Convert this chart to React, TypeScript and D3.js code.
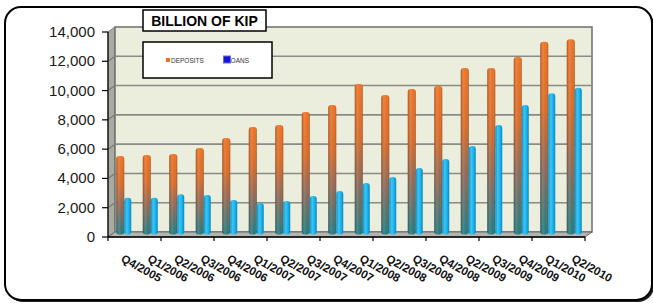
import * as d3 from "d3";

const quarters = [
  "Q4/2005", "Q1/2006", "Q2/2006", "Q3/2006", "Q4/2006", "Q1/2007",
  "Q2/2007", "Q3/2007", "Q4/2007", "Q1/2008", "Q2/2008", "Q3/2008",
  "Q4/2008", "Q2/2009", "Q3/2009", "Q4/2009", "Q1/2010", "Q2/2010",
];
const deposits = [
  5360, 5430, 5500, 5910, 6590, 7340, 7480, 8370, 8850, 10280, 9530, 9940,
  10140, 11370, 11370, 12120, 13170, 13330,
];
const loans = [
  2510, 2510, 2750, 2700, 2360, 2150, 2290, 2630, 2970, 3520, 3930, 4540,
  5160, 6050, 7480, 8850, 9640, 10030,
];
const yTicks = [0, 2000, 4000, 6000, 8000, 10000, 12000, 14000];

const W = 653;
const H = 307;
const FONT = "'Liberation Sans', Arial, sans-serif";

// 3D depth offset of the back wall relative to the front axis
const DX = 7;
const DY = -5;

export default function App(): JSX.Element {
  const x0 = 108;
  const x1 = 585;
  const yFront = d3.scaleLinear().domain([0, 14000]).range([237, 32]);
  const yBack = (v: number) => yFront(v) + DY;
  const yBar = (v: number) => yFront(v) + DY / 2;

  const xFront = d3.scaleBand<string>().domain(quarters).range([x0, x1]);
  const xBar = d3
    .scaleBand<string>()
    .domain(quarters)
    .range([x0 + DX / 2, x1 + DX / 2]);

  const fmt = d3.format(",");
  const floorY = yBar(0);

  return (
    <svg
      width={W}
      height={H}
      style={{ position: "absolute", left: 0, top: 0, background: "#fff" }}
      fontFamily={FONT}
    >
      <defs>
        <linearGradient id="depV" x1="0" y1="0" x2="0" y2="1">
          <stop offset="0" stopColor="#ee7224" />
          <stop offset="0.35" stopColor="#d96a26" />
          <stop offset="0.65" stopColor="#8d6856" />
          <stop offset="1" stopColor="#207a80" />
        </linearGradient>
        <linearGradient id="loanV" x1="0" y1="0" x2="1" y2="0">
          <stop offset="0" stopColor="#0e90c4" />
          <stop offset="0.35" stopColor="#3cc6f6" />
          <stop offset="0.7" stopColor="#18b0ec" />
          <stop offset="1" stopColor="#0a86b8" />
        </linearGradient>
        <linearGradient id="cyl" x1="0" y1="0" x2="1" y2="0">
          <stop offset="0" stopColor="#000" stopOpacity="0.28" />
          <stop offset="0.35" stopColor="#fff" stopOpacity="0.12" />
          <stop offset="0.7" stopColor="#fff" stopOpacity="0" />
          <stop offset="1" stopColor="#000" stopOpacity="0.28" />
        </linearGradient>
      </defs>

      {/* outer frame with shadow */}
      <rect x={7} y={9} width={647} height={293} rx={16} fill="#222" />
      <rect x={5} y={7} width={647} height={293} rx={16} fill="#fff" stroke="#000" strokeWidth={2} />

      {/* left side wall */}
      <polygon
        points={`${x0},${yFront(0)} ${x0},${yFront(14000)} ${x0 + DX},${yBack(14000)} ${x0 + DX},${yBack(0)}`}
        fill="#a9aaa0"
        stroke="#7a7a72"
        strokeWidth={1}
      />
      {/* back wall */}
      <rect
        x={x0 + DX}
        y={yBack(14000)}
        width={x1 - x0}
        height={yBack(0) - yBack(14000)}
        fill="#eceedd"
        stroke="#6e6e6e"
        strokeWidth={1.5}
      />
      {/* gridlines */}
      {yTicks.slice(1, -1).map((v) => (
        <g key={v}>
          <line x1={x0 + DX} x2={x1 + DX} y1={yBack(v)} y2={yBack(v)} stroke="#8a8a86" strokeWidth={1.6} />
          <line x1={x0} x2={x0 + DX} y1={yFront(v)} y2={yBack(v)} stroke="#7a7a76" strokeWidth={1.2} />
        </g>
      ))}
      {/* floor */}
      <polygon
        points={`${x0},${yFront(0)} ${x1},${yFront(0)} ${x1 + DX},${yBack(0)} ${x0 + DX},${yBack(0)}`}
        fill="#b4b4b0"
        stroke="#6a6a6a"
        strokeWidth={1}
      />

      {/* bars */}
      {quarters.map((q, i) => {
        const c = (xBar(q) ?? 0) + xBar.bandwidth() / 2 - 0.5;
        const dTop = yBar(deposits[i]);
        const lTop = yBar(loans[i]);
        return (
          <g key={q}>
            <rect x={c - 8} y={dTop} width={8} height={floorY - dTop} rx={3} fill="url(#depV)" />
            <rect x={c - 8} y={dTop} width={8} height={floorY - dTop} rx={3} fill="url(#cyl)" />
            <rect x={c} y={lTop} width={7} height={floorY - lTop} rx={3} fill="url(#loanV)" />
          </g>
        );
      })}

      {/* y axis */}
      <line x1={x0} x2={x0} y1={yFront(0)} y2={yFront(14000)} stroke="#000" strokeWidth={1.2} />
      {yTicks.map((v) => (
        <g key={v}>
          <line x1={x0 - 6} x2={x0} y1={yFront(v)} y2={yFront(v)} stroke="#000" strokeWidth={1.2} />
          <text x={95} y={yFront(v) + 5} textAnchor="end" fontSize={15} fill="#1a1a1a">
            {fmt(v)}
          </text>
        </g>
      ))}

      {/* x axis */}
      <line x1={x0} x2={x1} y1={yFront(0)} y2={yFront(0)} stroke="#000" strokeWidth={1.5} />
      {quarters
        .map((q, i) => ({ q, i }))
        .filter((d) => d.i % 2 === 0)
        .map((d) => {
          const tx = xFront(d.q) ?? 0;
          return <line key={d.q} x1={tx} x2={tx} y1={yFront(0)} y2={yFront(0) + 4} stroke="#000" strokeWidth={1.2} />;
        })}
      <line x1={x1} x2={x1} y1={yFront(0)} y2={yFront(0) + 4} stroke="#000" strokeWidth={1.2} />
      {quarters.map((q) => {
        const cx = (xFront(q) ?? 0) + xFront.bandwidth() / 2 - 1;
        return (
          <text
            key={q}
            transform={`translate(${cx},261) rotate(29)`}
            fontSize={11.5}
            fontWeight="bold"
            fill="#111"
          >
            {q}
          </text>
        );
      })}

      {/* title box */}
      <rect x={143} y={10} width={123} height={21} fill="#fff" stroke="#000" strokeWidth={1.5} />
      <text x={204.5} y={26} textAnchor="middle" fontSize={14} fontWeight="bold" fill="#000">
        BILLION OF KIP
      </text>

      {/* legend */}
      <rect x={143} y={42} width={129} height={36} fill="#fff" stroke="#000" strokeWidth={1.5} />
      <rect x={166} y={58} width={4} height={4} fill="#e8732a" />
      <text x={171} y={63} fontSize={6.5} fill="#333">DEPOSITS</text>
      <text x={227} y={63} fontSize={6.5} fill="#333">LOANS</text>
      <rect x={223.5} y={56} width={7} height={7} fill="#1414d8" stroke="#6a6ae0" strokeWidth={1} />
    </svg>
  );
}
